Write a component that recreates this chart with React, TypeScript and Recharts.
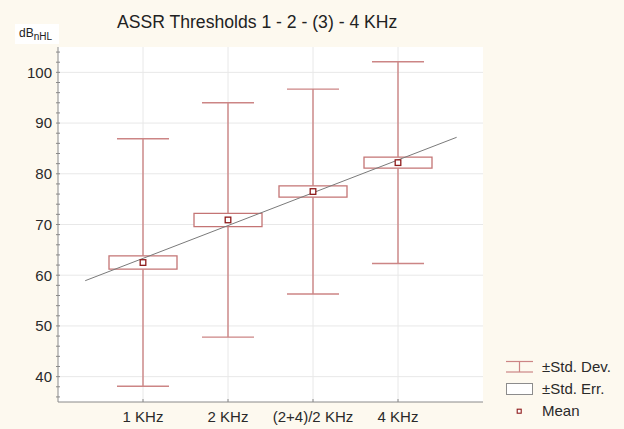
import React from 'react';
import {
  ComposedChart,
  XAxis,
  YAxis,
  CartesianGrid,
  ReferenceLine,
  ReferenceArea,
  Scatter,
} from 'recharts';

// ---- data ----
const categories = ['1 KHz', '2 KHz', '(2+4)/2 KHz', '4 KHz'];
const positions = [1, 2, 3, 4];
const means = [62.5, 70.9, 76.5, 82.2];
const stdDev = [24.4, 23.1, 20.2, 19.9];
const stdErr = [1.3, 1.3, 1.1, 1.1];
const yMajorTicks = [40, 50, 60, 70, 80, 90, 100];
const yMinorTicks = Array.from({ length: 35 }, (_, i) => 36 + i * 2);
const regressionXRange = [0.32, 4.69];
const legendLabels = ['±Std. Dev.', '±Std. Err.', 'Mean'];

// ---- layout / style ----
const W = 624;
const H = 429;
const BG = '#fdf9ef';
const FONT = '"Liberation Sans", Arial, sans-serif';
const WHISKER = '#cc8585';
const BOX = '#c47474';
const MEAN = '#8e1b1b';
const BOX_HALF = 0.4;
const CAP_HALF = 0.306;

// least-squares fit through the means
const n = positions.length;
const mx = positions.reduce((a, b) => a + b, 0) / n;
const my = means.reduce((a, b) => a + b, 0) / n;
const slope =
  positions.reduce((s, x, i) => s + (x - mx) * (means[i] - my), 0) /
  positions.reduce((s, x) => s + (x - mx) * (x - mx), 0);
const intercept = my - slope * mx;
const regSegment = regressionXRange.map((x) => ({ x, y: intercept + slope * x }));

const data = positions.map((x, i) => ({ x, mean: means[i], name: categories[i] }));

const YTick = (props: any) => {
  const { x, y, payload } = props;
  const v = payload.value;
  const major = v % 10 === 0;
  return (
    <g>
      <line x1={x - 2} x2={x + 2} y1={y} y2={y} stroke="#8a8a8a" strokeWidth={1} />
      {major && (
        <text x={x - 6} y={y + 5.3} textAnchor="end" fontSize={15} fill="#2a2a2a" fontFamily={FONT}>
          {v}
        </text>
      )}
    </g>
  );
};

const RightTick = (props: any) => {
  const { x, y } = props;
  return <line x1={x - 2} x2={x + 2} y1={y} y2={y} stroke="#8a8a8a" strokeWidth={1} />;
};

const XTick = (props: any) => {
  const { x, y, payload } = props;
  const idx = positions.indexOf(payload.value);
  return (
    <g>
      <line x1={x} x2={x} y1={y - 3} y2={y} stroke="#8a8a8a" strokeWidth={1} />
      <text x={x} y={y + 19.7} textAnchor="middle" fontSize={15} fill="#2a2a2a" fontFamily={FONT}>
        {idx >= 0 ? categories[idx] : ''}
      </text>
    </g>
  );
};

const MeanShape = (props: any) => {
  const { cx, cy } = props;
  return <rect x={cx - 2.8} y={cy - 2.8} width={5.6} height={5.6} fill="#fff" stroke={MEAN} strokeWidth={1.3} />;
};

const LegendBox = () => {
  const row: React.CSSProperties = { display: 'flex', alignItems: 'center', height: 22 };
  const label: React.CSSProperties = { fontSize: 15, color: '#2a2a2a', fontFamily: FONT, marginLeft: 9, lineHeight: '22px' };
  return (
    <div style={{ position: 'absolute', left: 506, top: 356, width: 118 }}>
      <div style={row}>
        <svg width={27} height={14}>
          <line x1={0} x2={27} y1={1.5} y2={1.5} stroke={WHISKER} strokeWidth={1.2} />
          <line x1={0} x2={27} y1={12} y2={12} stroke={WHISKER} strokeWidth={1.2} />
          <line x1={13.5} x2={13.5} y1={1.5} y2={12} stroke={WHISKER} strokeWidth={1.2} />
        </svg>
        <span style={label}>{legendLabels[0]}</span>
      </div>
      <div style={row}>
        <svg width={27} height={14}>
          <rect x={0.5} y={1.5} width={26} height={11} fill="#fff" stroke="#8c8c8c" strokeWidth={1} />
        </svg>
        <span style={label}>{legendLabels[1]}</span>
      </div>
      <div style={row}>
        <svg width={27} height={14}>
          <rect x={11.2} y={5.2} width={4} height={4} fill="#fff" stroke={MEAN} strokeWidth={1.1} />
        </svg>
        <span style={label}>{legendLabels[2]}</span>
      </div>
    </div>
  );
};

export default function App() {
  return (
    <div style={{ position: 'absolute', left: 0, top: 0, width: W, height: H, background: BG, fontFamily: FONT }}>
      <ComposedChart width={W} height={H} data={data} margin={{ top: 47, right: 141, bottom: 0, left: 0 }}>
        <CartesianGrid fill="#ffffff" stroke="#e8e8e8" horizontalValues={yMajorTicks} verticalValues={positions} />
        <XAxis
          dataKey="x"
          type="number"
          domain={[0, 5]}
          ticks={positions}
          interval={0}
          height={27}
          tickSize={0}
          tickMargin={0}
          tick={<XTick />}
          axisLine={{ stroke: '#8a8a8a' }}
        />
        <XAxis xAxisId="top" orientation="top" type="number" domain={[0, 5]} height={0} tick={false} tickLine={false} axisLine={{ stroke: '#a0a0a0' }} />
        <YAxis
          type="number"
          domain={[35, 105]}
          ticks={yMinorTicks}
          interval={0}
          width={58}
          tickSize={0}
          tickMargin={0}
          tick={<YTick />}
          axisLine={{ stroke: '#8a8a8a' }}
          allowDataOverflow
        />
        <YAxis
          yAxisId="right"
          orientation="right"
          type="number"
          domain={[35, 105]}
          ticks={yMinorTicks}
          interval={0}
          width={0}
          tickSize={0}
          tickMargin={0}
          tick={<RightTick />}
          axisLine={{ stroke: '#a0a0a0' }}
          allowDataOverflow
        />

        {positions.map((x, i) => (
          <ReferenceLine
            key={`wu${i}`}
            segment={[{ x, y: means[i] + stdErr[i] }, { x, y: means[i] + stdDev[i] }]}
            stroke={WHISKER}
            strokeWidth={1.4}
            ifOverflow="visible"
          />
        ))}
        {positions.map((x, i) => (
          <ReferenceLine
            key={`wl${i}`}
            segment={[{ x, y: means[i] - stdDev[i] }, { x, y: means[i] - stdErr[i] }]}
            stroke={WHISKER}
            strokeWidth={1.4}
            ifOverflow="visible"
          />
        ))}
        {positions.map((x, i) => (
          <ReferenceLine
            key={`cu${i}`}
            segment={[{ x: x - CAP_HALF, y: means[i] + stdDev[i] }, { x: x + CAP_HALF, y: means[i] + stdDev[i] }]}
            stroke={WHISKER}
            strokeWidth={1.4}
            ifOverflow="visible"
          />
        ))}
        {positions.map((x, i) => (
          <ReferenceLine
            key={`cl${i}`}
            segment={[{ x: x - CAP_HALF, y: means[i] - stdDev[i] }, { x: x + CAP_HALF, y: means[i] - stdDev[i] }]}
            stroke={WHISKER}
            strokeWidth={1.4}
            ifOverflow="visible"
          />
        ))}
        {positions.map((x, i) => (
          <ReferenceArea
            key={`box${i}`}
            x1={x - BOX_HALF}
            x2={x + BOX_HALF}
            y1={means[i] - stdErr[i]}
            y2={means[i] + stdErr[i]}
            fill="#ffffff"
            fillOpacity={1}
            stroke={BOX}
            strokeWidth={1.3}
            ifOverflow="visible"
          />
        ))}
        <ReferenceLine segment={regSegment} stroke="#7a7a7a" strokeWidth={1} ifOverflow="visible" />
        <Scatter dataKey="mean" shape={<MeanShape />} isAnimationActive={false} />
      </ComposedChart>
      <LegendBox />
      <svg width={W} height={H} style={{ position: 'absolute', left: 0, top: 0, pointerEvents: 'none' }}>
        <text x={117} y={28} fontSize={17.6} fill="#222" fontFamily={FONT}>
          ASSR Thresholds 1 - 2 - (3) - 4 KHz
        </text>
        <rect x={15} y={24} width={44} height={20} fill="#ffffff" />
        <text x={19} y={37} fontSize={12} fill="#222" fontFamily={FONT}>
          dB
          <tspan fontSize={10} dy={3}>
            nHL
          </tspan>
        </text>
      </svg>
    </div>
  );
}
